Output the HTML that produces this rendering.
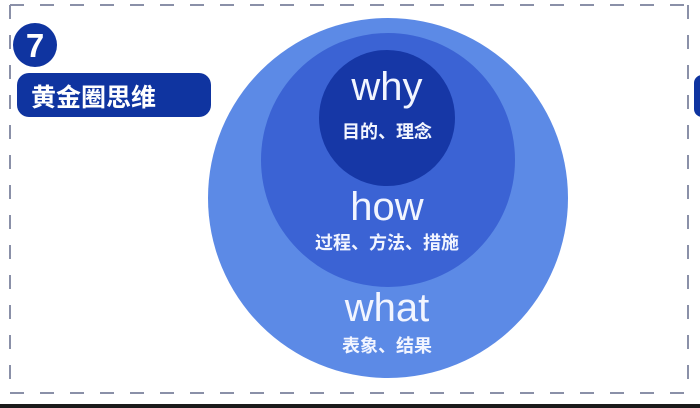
<!DOCTYPE html>
<html><head><meta charset="utf-8"><style>
html,body{margin:0;padding:0;background:#fff;}
body{width:700px;height:408px;position:relative;overflow:hidden;font-family:"Liberation Sans","Noto Sans CJK SC",sans-serif;}
</style></head><body>
<svg width="700" height="408" viewBox="0 0 700 408" style="position:absolute;left:0;top:0">
<rect x="0" y="0" width="700" height="408" fill="#fff"/>
<g stroke="#8a90a8" stroke-width="2" stroke-dasharray="14,16" fill="none">
<line x1="10" y1="5" x2="700" y2="5"/>
<line x1="10" y1="393" x2="700" y2="393"/>
<line x1="10" y1="5" x2="10" y2="393"/>
<line x1="688" y1="5" x2="688" y2="393"/>
</g>
<rect x="694" y="75" width="20" height="42" rx="8" fill="#0f34a0"/>
<rect x="0" y="404" width="700" height="4" fill="#1a1a1a"/>
<circle cx="35" cy="45" r="22" fill="#0f34a0"/>
<text x="35" y="57" text-anchor="middle" font-family="Liberation Sans" font-weight="bold" font-size="33" fill="#fff">7</text>
<rect x="17" y="73" width="194" height="44" rx="12" fill="#0f34a0"/>
<text x="31" y="106" font-family="Liberation Sans, Noto Sans CJK SC, sans-serif" font-weight="bold" font-size="25" fill="#fff">黄金圈思维</text>
<circle cx="388" cy="198" r="180" fill="#5c8ae6"/>
<circle cx="388" cy="160" r="127" fill="#3b63d4"/>
<circle cx="387" cy="118" r="68" fill="#1637a6"/>
<g fill="#f2f5ff" text-anchor="middle" font-family="Liberation Sans, Noto Sans CJK SC, sans-serif">
<text x="387" y="100" font-size="40">why</text>
<text x="387" y="138" font-size="18" font-weight="bold">目的、理念</text>
<text x="387" y="220" font-size="40">how</text>
<text x="387" y="249" font-size="18" font-weight="bold">过程、方法、措施</text>
<text x="387" y="321" font-size="40">what</text>
<text x="387" y="352" font-size="18" font-weight="bold">表象、结果</text>
</g>
</svg>
</body></html>
